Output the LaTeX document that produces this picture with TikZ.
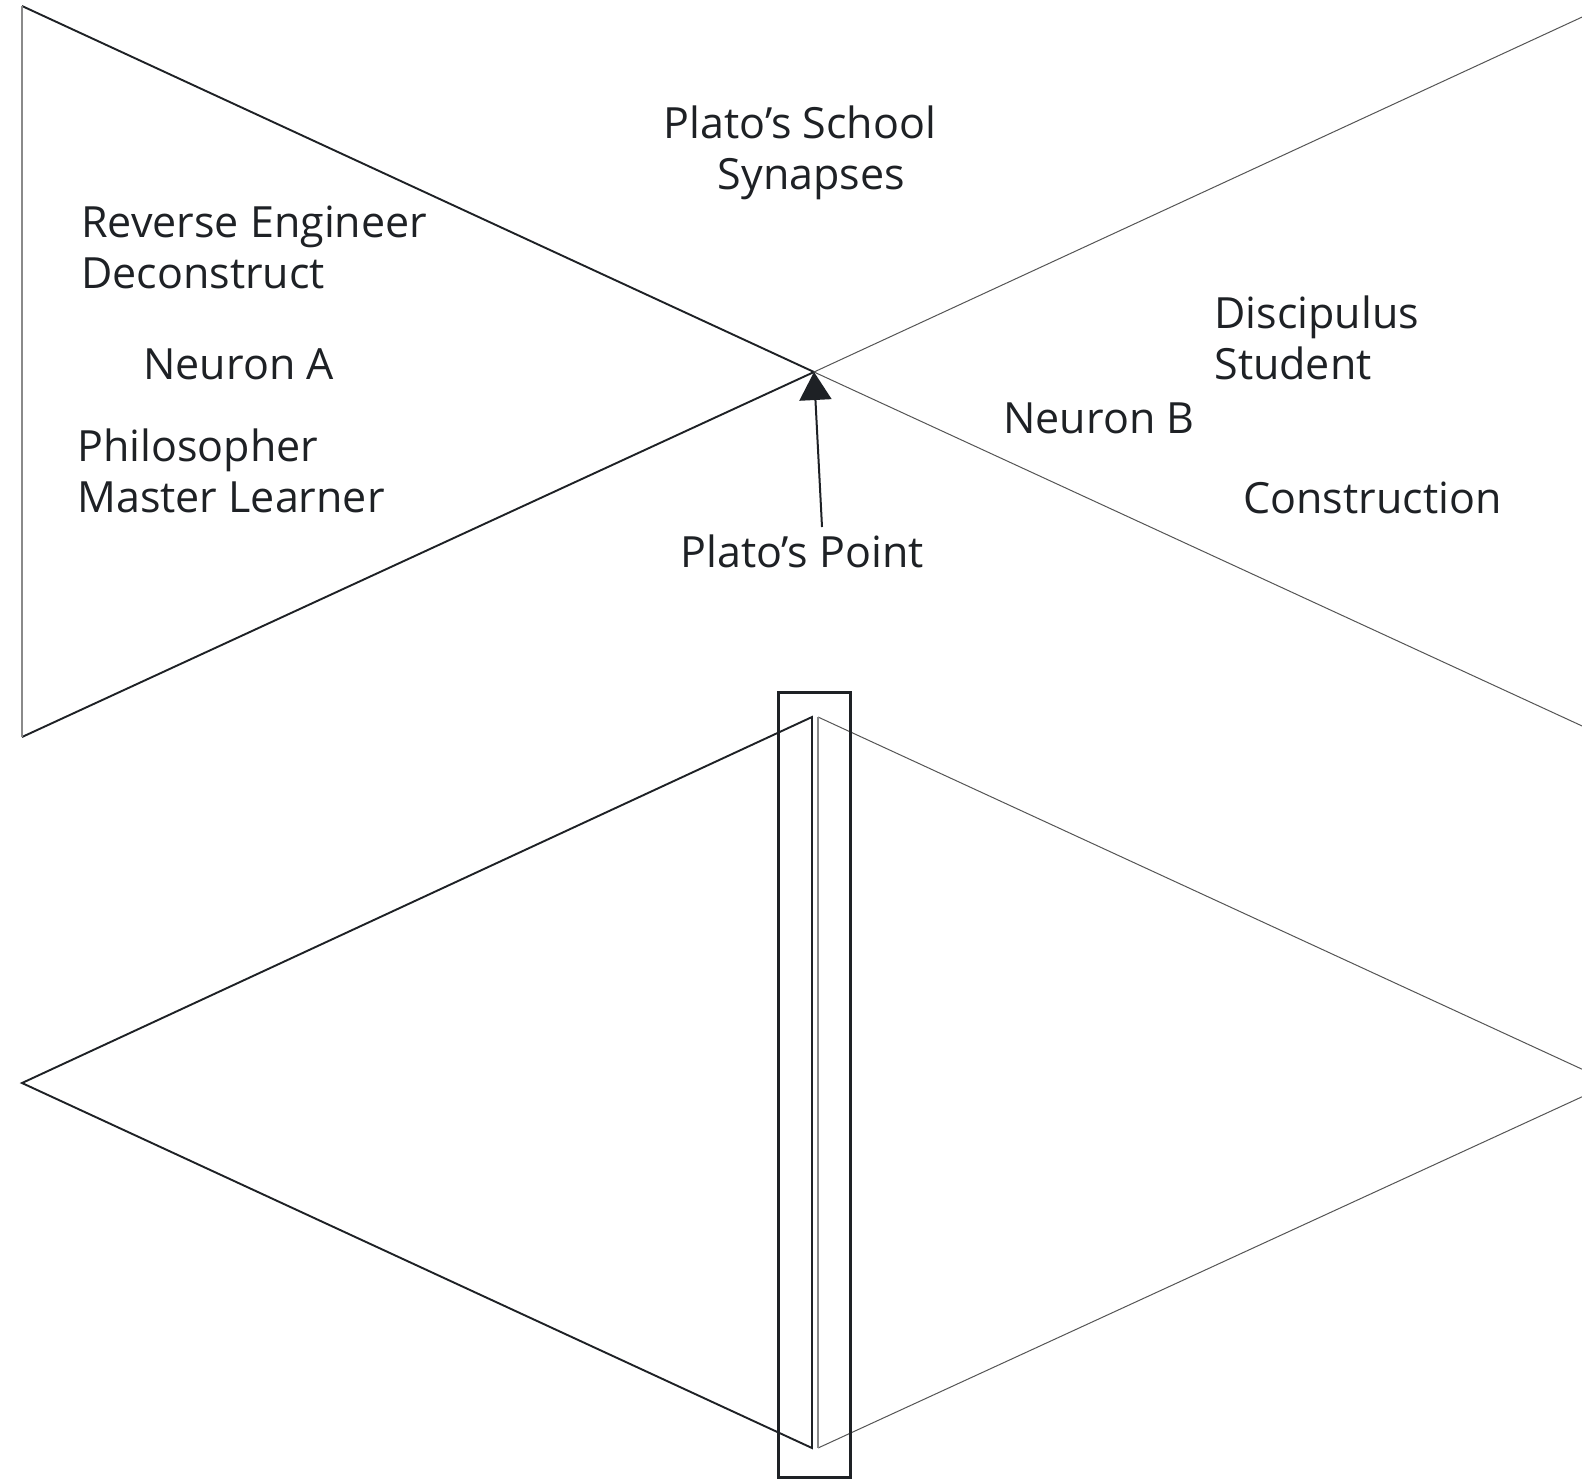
\documentclass[tikz,border=0pt]{standalone}
\usepackage{fontspec}
\setmainfont{Open Sans}
\usetikzlibrary{arrows.meta}
\definecolor{ink}{HTML}{1E2125}
\definecolor{edgegray}{HTML}{555555}
\definecolor{lightedge}{HTML}{8A8A8A}
\tikzset{
  lbl/.style={font=\fontsize{21.5}{25.5}\selectfont, text=ink, inner sep=0pt, align=left},
  lblc/.style={lbl, align=center},
  darkline/.style={draw=ink, line width=0.95pt, line join=miter},
  thinline/.style={draw=edgegray, line width=0.5pt},
  lightline/.style={draw=lightedge, line width=0.8pt},
  pointer/.style={draw=ink, fill=ink, line width=1pt, -{Triangle[width=16pt,length=14pt]}}
}
\begin{document}
\begin{tikzpicture}[x=0.5pt,y=-0.5pt]
\useasboundingbox (0,0) rectangle (1582,1478);
\fill[white] (0,0) rectangle (1582,1478);
\clip (0,0) rectangle (1582,1478);
% key points
\coordinate (apex) at (814,372);
\coordinate (tl) at (22,6);
\coordinate (bl) at (22,737);
\coordinate (tr) at (1606,6);
\coordinate (br) at (1606,737);
% upper left triangle
\draw[darkline] (bl) -- (apex) -- (tl);
\draw[lightline] (tl) -- (bl);
% upper right triangle
\draw[thinline] (tr) -- (apex) -- (br);
% lower left triangle
\coordinate (lt) at (812,717);
\coordinate (lb) at (812,1448);
\coordinate (lv) at (22,1083);
\draw[darkline] (lt) -- (lv) -- (lb) -- cycle;
% lower right triangle
\coordinate (rt) at (818,717);
\coordinate (rb) at (818,1448);
\coordinate (rv) at (1612,1083);
\draw[thinline] (rt) -- (rv) -- (rb);
\draw[lightline] (rt) -- (rb);
% bar
\node[draw=ink, line width=1.5pt, minimum width=36pt, minimum height=392.5pt, inner sep=0pt, anchor=north west] (bar) at (777,691) {};
% labels
\node[lblc] (school) at (800,153) {Plato’s School\\ \hphantom{x}Synapses};
\node[lbl, anchor=west] (rev) at (81,247) {Reverse Engineer\\Deconstruct};
\node[lbl, anchor=west] (na) at (143,364) {Neuron A};
\node[lbl, anchor=west] (phil) at (77,471) {Philosopher\\Master Learner};
\node[lbl, anchor=west] (pp) at (680,551) {Plato’s Point};
\node[lbl, anchor=west] (disc) at (1214,338) {Discipulus\\Student};
\node[lbl, anchor=west] (nb) at (1003,418) {Neuron B};
\node[lbl, anchor=west] (cons) at (1243,498) {Construction};
% arrow
\coordinate (ptail) at (822,527);
\draw[pointer] (ptail) -- (apex);
\end{tikzpicture}
\end{document}
